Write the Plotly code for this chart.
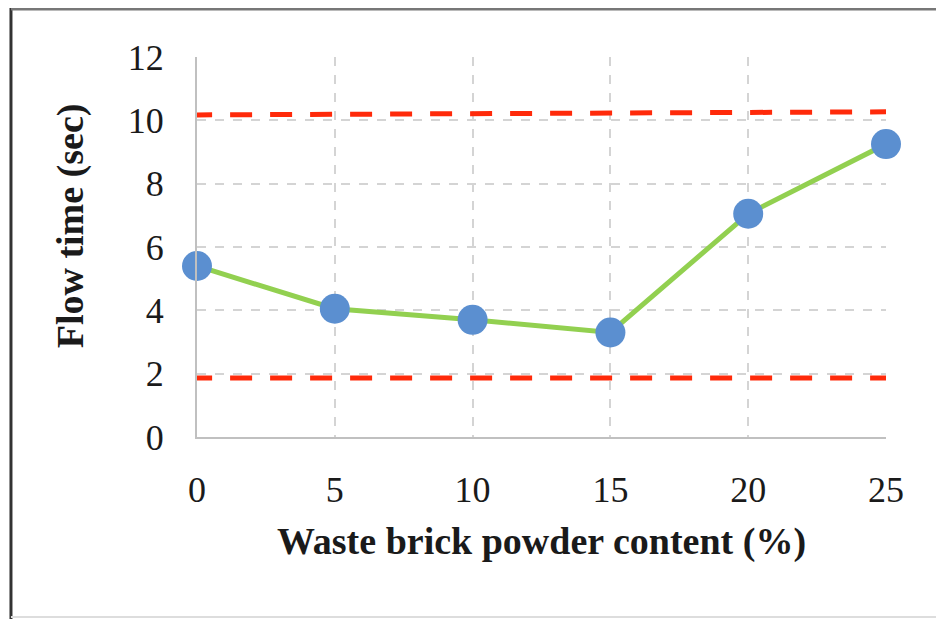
import plotly.graph_objects as go

content = [0, 5, 10, 15, 20, 25]
flow_time = [5.4, 4.05, 3.7, 3.3, 7.05, 9.25]
limit_x = [-0.25, 25.3]
upper_limit = [10.17, 10.27]
lower_limit = [1.86, 1.86]
x_ticks = [0, 5, 10, 15, 20, 25]
y_ticks = [0, 2, 4, 6, 8, 10, 12]

FONT = "Liberation Serif"

fig = go.Figure()
fig.add_trace(go.Scatter(x=limit_x, y=upper_limit, mode="lines",
                         line=dict(color="#FF2A0A", width=5, dash="22px,18px"),
                         cliponaxis=False, showlegend=False, hoverinfo="skip"))
fig.add_trace(go.Scatter(x=limit_x, y=lower_limit, mode="lines",
                         line=dict(color="#FF2A0A", width=5, dash="22px,18px"),
                         cliponaxis=False, showlegend=False, hoverinfo="skip"))
fig.add_trace(go.Scatter(x=content, y=flow_time, mode="lines+markers",
                         line=dict(color="#92D050", width=5),
                         marker=dict(size=30, color="#5B8FD0"),
                         cliponaxis=False, showlegend=False))

fig.update_layout(
    width=936, height=611,
    margin=dict(l=189, r=58, t=49, b=182),
    paper_bgcolor="white", plot_bgcolor="white",
    font=dict(family=FONT, color="#1a1a1a"),
    xaxis=dict(range=[0, 25], tickvals=x_ticks, ticktext=[str(v) for v in x_ticks],
               showgrid=True, gridcolor="#d4d4d4", griddash="dash", gridwidth=2,
               showline=True, linecolor="#c0c0c0", linewidth=2, zeroline=False,
               tickfont=dict(size=36, family=FONT), ticks="", ticklabelstandoff=20,
               title=dict(text="<b>Waste brick powder content (%)</b>",
                          font=dict(size=38, family=FONT), standoff=18)),
    yaxis=dict(range=[0, 12], tickvals=y_ticks, ticktext=[str(v) for v in y_ticks],
               showgrid=True, gridcolor="#d4d4d4", griddash="dash", gridwidth=2,
               showline=True, linecolor="#c0c0c0", linewidth=2, zeroline=False,
               tickfont=dict(size=36, family=FONT), ticks="", ticklabelstandoff=24),
    annotations=[
        dict(text="<b>Flow time (sec)</b>", xref="paper", yref="paper",
             x=-0.184, y=0.555, textangle=-90, showarrow=False,
             xanchor="center", yanchor="middle",
             font=dict(size=38, family=FONT, color="#1a1a1a")),
    ],
    shapes=[
        dict(type="line", xref="paper", yref="paper", x0=-0.27, x1=-0.27, y0=-0.48, y1=1.13,
             line=dict(color="#333333", width=3)),
        dict(type="line", xref="paper", yref="paper", x0=-0.27, x1=1.09, y0=1.126, y1=1.126,
             line=dict(color="#777777", width=3)),
        dict(type="line", xref="paper", yref="paper", x0=-0.27, x1=1.09, y0=-0.474, y1=-0.474,
             line=dict(color="#dddddd", width=2)),
    ],
)

fig.write_html("out.html")
